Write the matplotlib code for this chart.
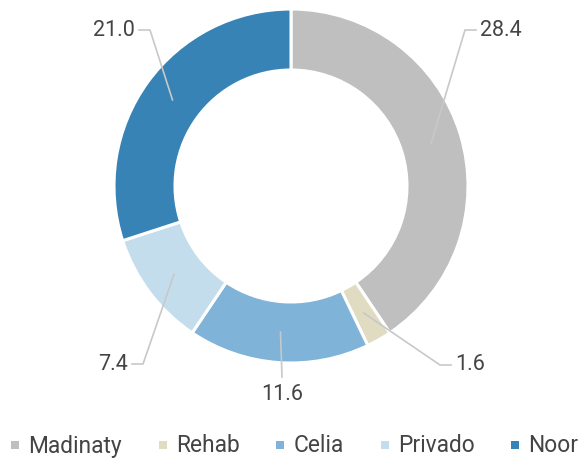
import numpy as np
import matplotlib
matplotlib.use("Agg")
import matplotlib.pyplot as plt
from matplotlib.patches import Rectangle

categories = ["Madinaty", "Rehab", "Celia", "Privado", "Noor"]
values = [28.4, 1.6, 11.6, 7.4, 21.0]
colors = ["#bfbfbf", "#e0dcc1", "#7fb3d8", "#c4ddec", "#3783b6"]

W, H = 587, 458
plt.rcParams['font.family'] = ['Roboto', 'DejaVu Sans']
TXT = "#444444"
LINE = "#c8c8c8"

fig = plt.figure(figsize=(W / 100, H / 100), dpi=100)
ax = fig.add_axes([0, 0, 1, 1])

cx, cy = 291, 186
R, ring = 177, 61

def P(x, y):
    return x, H - y

ax.pie(values, colors=colors, startangle=90, counterclock=False,
       radius=R, center=P(cx, cy),
       wedgeprops=dict(width=ring, edgecolor="white", linewidth=2.2))

# label layout (elbow point, horizontal direction) in pixel coords
elbows = [(465, 30, 1), (440, 365, 1), (282, 377, 0), (143, 364, -1), (150, 30, -1)]

total = sum(values)
cum = 0.0
rmid = R - ring / 2
for v, (ex, ey, d) in zip(values, elbows):
    theta = np.deg2rad((cum + v / 2) / total * 360)
    cum += v
    sx = cx + rmid * np.sin(theta)
    sy = cy - rmid * np.cos(theta)
    label = f"{v:.1f}"
    if d == 0:
        pts = [P(sx, sy), P(ex, ey)]
        ax.plot([p[0] for p in pts], [p[1] for p in pts], color=LINE, lw=1.2)
        ax.text(*P(ex, ey + 18), label, ha="center", va="center", fontsize=15.5, color=TXT)
    else:
        hx = ex + d * 11
        pts = [P(sx, sy), P(ex, ey), P(hx, ey)]
        ax.plot([p[0] for p in pts], [p[1] for p in pts], color=LINE, lw=1.2)
        ax.text(*P(hx + d * 4, ey), label, ha="left" if d > 0 else "right",
                va="center", fontsize=15.5, color=TXT)

ax.set_xlim(0, W)
ax.set_ylim(0, H)
ax.set_aspect("equal")
ax.axis("off")

# legend drawn manually, laid out from measured text widths
fig.canvas.draw()
renderer = fig.canvas.get_renderer()
x = 11
ly = 445
sq, sq_gap, item_gap = 8, 9, 37
for name, c in zip(categories, colors):
    ax.add_patch(Rectangle(P(x, ly + sq / 2), sq, sq, facecolor=c, edgecolor="none"))
    t = ax.text(*P(x + sq + sq_gap, ly + 1), name, ha="left", va="center",
                fontsize=16.4, color=TXT)
    w = t.get_window_extent(renderer).width
    x = x + sq + sq_gap + w + item_gap

fig.savefig("out.png", dpi=100)
